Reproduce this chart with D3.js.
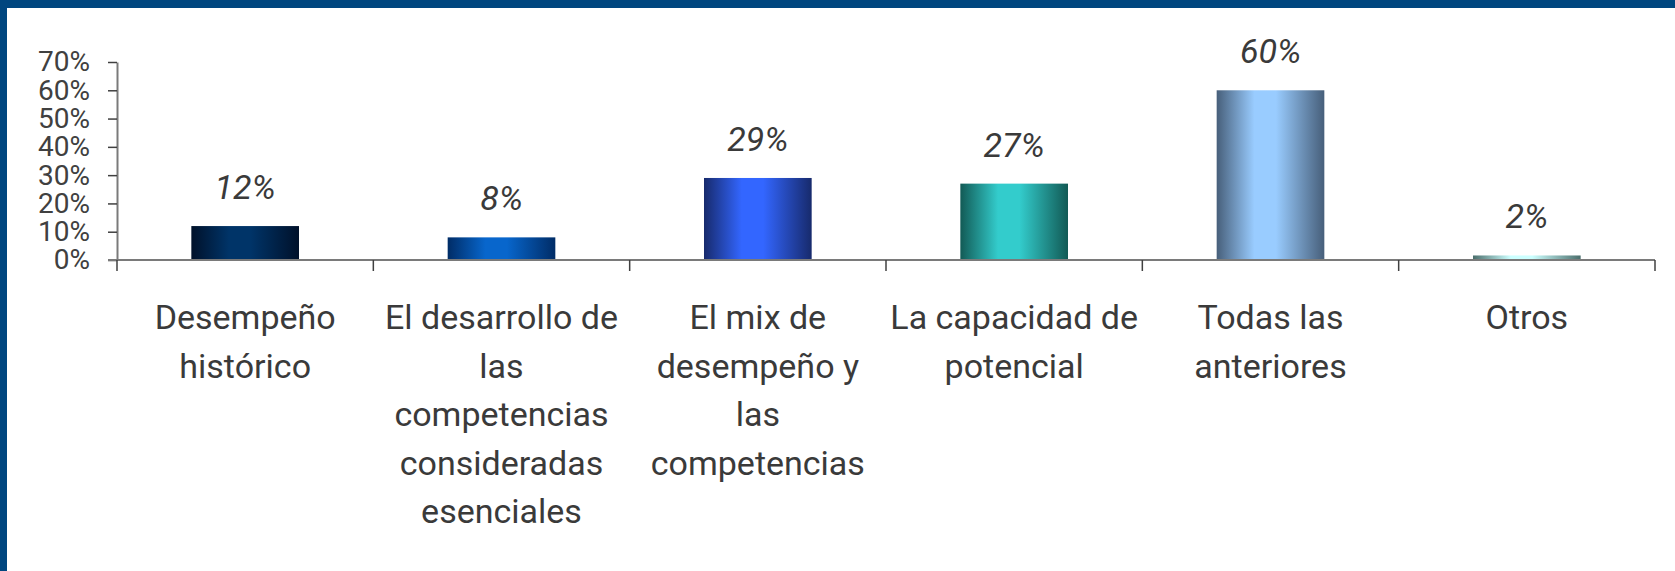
<!DOCTYPE html>
<html>
<head>
<meta charset="utf-8">
<script src="https://cdn.jsdelivr.net/npm/d3@7"></script>
<style>
  body { margin: 0; background: #fff; }
  svg { display: block; }
</style>
</head>
<body>
<svg></svg>
<script>
// Chart data
var categories = [
  "Desempeño histórico",
  "El desarrollo de las competencias consideradas esenciales",
  "El mix de desempeño y las competencias",
  "La capacidad de potencial",
  "Todas las anteriores",
  "Otros"
];
var labelLines = [
  ["Desempeño", "histórico"],
  ["El desarrollo de", "las", "competencias", "consideradas", "esenciales"],
  ["El mix de", "desempeño y", "las", "competencias"],
  ["La capacidad de", "potencial"],
  ["Todas las", "anteriores"],
  ["Otros"]
];
var values = [0.12, 0.08, 0.29, 0.27, 0.60, 0.016];
var yTicks = [0, 0.1, 0.2, 0.3, 0.4, 0.5, 0.6, 0.7];

// Bar gradient colours (edge, centre)
var barColors = [
  ["#00112a", "#003468"],
  ["#002c66", "#0866cc"],
  ["#172a6c", "#3366ff"],
  ["#125a55", "#33cccc"],
  ["#475f7a", "#99ccff"],
  ["#4a6e6c", "#ccffff"]
];

var width = 1675;
var height = 571;

var svg = d3.select("svg")
  .attr("width", width)
  .attr("height", height);

// Frame
svg.append("rect").attr("x", 0).attr("y", 0).attr("width", width).attr("height", 8).attr("fill", "#00467f");
svg.append("rect").attr("x", 0).attr("y", 0).attr("width", 7).attr("height", height).attr("fill", "#00467f");

// Scales
var x = d3.scaleBand()
  .domain(categories)
  .range([117, 1655])
  .paddingInner(0.58)
  .paddingOuter(0.29);

var y = d3.scaleLinear()
  .domain([0, 0.7])
  .range([260, 62]);

// Gradients
var defs = svg.append("defs");
barColors.forEach(function(c, i) {
  var g = defs.append("linearGradient")
    .attr("id", "grad" + i)
    .attr("x1", "0%").attr("x2", "100%")
    .attr("y1", "0%").attr("y2", "0%");
  g.append("stop").attr("offset", "0%").attr("stop-color", c[0]);
  g.append("stop").attr("offset", "35%").attr("stop-color", c[1]);
  g.append("stop").attr("offset", "55%").attr("stop-color", c[1]);
  g.append("stop").attr("offset", "100%").attr("stop-color", c[0]);
});

// Bars
svg.selectAll(".bar")
  .data(values)
  .enter()
  .append("rect")
  .attr("class", "bar")
  .attr("x", function(d, i) { return x(categories[i]); })
  .attr("y", function(d) { return y(d); })
  .attr("width", x.bandwidth())
  .attr("height", function(d) { return y(0) - y(d); })
  .attr("fill", function(d, i) { return "url(#grad" + i + ")"; });

// Value labels
svg.selectAll(".value")
  .data(values)
  .enter()
  .append("text")
  .attr("class", "value")
  .attr("x", function(d, i) { return x(categories[i]) + x.bandwidth() / 2; })
  .attr("y", function(d) { return y(d) - 27; })
  .attr("text-anchor", "middle")
  .style("font-family", "Roboto, sans-serif")
  .style("font-style", "italic")
  .style("font-size", "34px")
  .attr("fill", "#3a3a3a")
  .text(function(d) { return d3.format(".0%")(d); });

// Y axis
var yAxis = svg.append("g")
  .attr("transform", "translate(117,0)")
  .call(d3.axisLeft(y)
    .tickValues(yTicks)
    .tickFormat(d3.format(".0%"))
    .tickSize(9)
    .tickSizeOuter(0)
    .tickPadding(18));
yAxis.select(".domain").attr("stroke", "#7a7a7a").attr("stroke-width", 2);
yAxis.selectAll(".tick line").attr("stroke", "#404040").attr("stroke-width", 1.5);
yAxis.selectAll(".tick text")
  .style("font-family", "Roboto, sans-serif")
  .style("font-size", "28px")
  .attr("fill", "#404040");

// X axis line
var gap = (x.step() - x.bandwidth()) / 2;
svg.append("line")
  .attr("x1", 108).attr("x2", x.range()[1])
  .attr("y1", y(0)).attr("y2", y(0))
  .attr("stroke", "#7a7a7a")
  .attr("stroke-width", 2);

// Category boundary ticks
var bounds = categories.map(function(c) { return x(c) - gap; });
bounds.push(x(categories[categories.length - 1]) + x.bandwidth() + gap);
svg.selectAll(".xtick")
  .data(bounds)
  .enter()
  .append("line")
  .attr("class", "xtick")
  .attr("x1", function(d) { return d; })
  .attr("x2", function(d) { return d; })
  .attr("y1", y(0))
  .attr("y2", y(0) + 11)
  .attr("stroke", "#404040")
  .attr("stroke-width", 1.5);

// Category labels
svg.selectAll(".cat")
  .data(labelLines)
  .enter()
  .append("text")
  .attr("class", "cat")
  .attr("text-anchor", "middle")
  .attr("transform", function(d, i) {
    return "translate(" + (x(categories[i]) + x.bandwidth() / 2) + ",329)";
  })
  .style("font-family", "Roboto, sans-serif")
  .style("font-size", "34px")
  .attr("fill", "#3a3a3a")
  .selectAll("tspan")
  .data(function(d) { return d; })
  .enter()
  .append("tspan")
  .attr("x", 0)
  .attr("y", function(d, i) { return i * 48.5; })
  .text(function(d) { return d; });
</script>
</body>
</html>
